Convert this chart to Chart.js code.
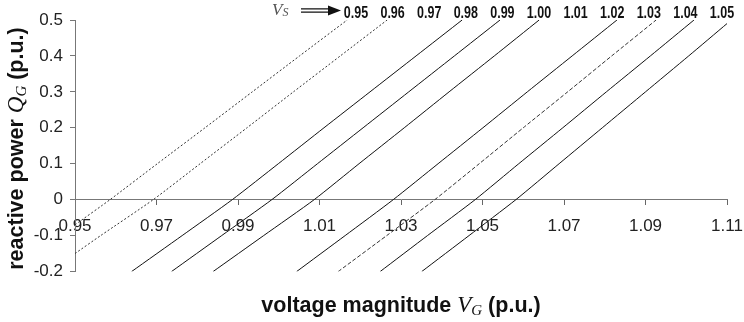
<!DOCTYPE html>
<html>
<head>
<meta charset="utf-8">
<script src="https://cdn.jsdelivr.net/npm/chart.js@4/dist/chart.umd.min.js"></script>
<style>
  html, body { margin: 0; padding: 0; background: #fff; }
  #wrap { width: 744px; height: 322px; }
</style>
</head>
<body>
<div id="wrap"><canvas id="c" width="744" height="322"></canvas></div>
<script>
// ---- data ----
const xTickValues = [0.95, 0.97, 0.99, 1.01, 1.03, 1.05, 1.07, 1.09, 1.11];
const xTickLabels = ['0.95', '0.97', '0.99', '1.01', '1.03', '1.05', '1.07', '1.09', '1.11'];
const yTickValues = [-0.2, -0.1, 0, 0.1, 0.2, 0.3, 0.4, 0.5];
const yTickLabels = ['-0.2', '-0.1', '0', '0.1', '0.2', '0.3', '0.4', '0.5'];
const vsLabels = ['0.95', '0.96', '0.97', '0.98', '0.99', '1.00', '1.01', '1.02', '1.03', '1.04', '1.05'];

// curves: voltage magnitude V_G (x) and reactive power Q_G (y)
const vs095V = [0.9500, 0.9586, 0.9702, 0.9819, 0.9935, 1.0051, 1.0168];
const vs095Q = [-0.07, 0.0, 0.1, 0.2, 0.3, 0.4, 0.5];
const vs096V = [0.9500, 0.9563, 0.9692, 0.9807, 0.9922, 1.0036, 1.0151, 1.0266];
const vs096Q = [-0.15, -0.1, 0.0, 0.1, 0.2, 0.3, 0.4, 0.5];
const vs098V = [0.9639, 0.9763, 0.9886, 0.9999, 1.0111, 1.0224, 1.0337, 1.0450];
const vs099V = [0.9737, 0.9860, 0.9983, 1.0095, 1.0207, 1.0319, 1.0431, 1.0543];
const vs100V = [0.9839, 0.9963, 1.0087, 1.0197, 1.0308, 1.0418, 1.0529, 1.0639];
const vs102V = [1.0044, 1.0163, 1.0281, 1.0391, 1.0501, 1.0610, 1.0720, 1.0830];
const vs103V = [1.0146, 1.0265, 1.0383, 1.0492, 1.0600, 1.0709, 1.0817, 1.0926];
const vs104V = [1.0249, 1.0365, 1.0482, 1.0589, 1.0697, 1.0804, 1.0912, 1.1019];
const vs105V = [1.0351, 1.0467, 1.0582, 1.0688, 1.0794, 1.0900, 1.1006, 1.1100];
const fullQ  = [-0.2, -0.1, 0.0, 0.1, 0.2, 0.3, 0.4, 0.5];
const vs105Q = [-0.2, -0.1, 0.0, 0.1, 0.2, 0.3, 0.4, 0.49];

function pts(vArr, qArr) { return vArr.map((v, i) => ({ x: v, y: qArr[i] })); }

const series = [
  { name: '0.95', v: vs095V, q: vs095Q, dash: [2, 2], color: '#333' },
  { name: '0.96', v: vs096V, q: vs096Q, dash: [2, 2], color: '#333' },
  { name: '0.98', v: vs098V, q: fullQ, dash: [], color: '#111' },
  { name: '0.99', v: vs099V, q: fullQ, dash: [], color: '#111' },
  { name: '1.00', v: vs100V, q: fullQ, dash: [], color: '#111' },
  { name: '1.02', v: vs102V, q: fullQ, dash: [], color: '#111' },
  { name: '1.03', v: vs103V, q: fullQ, dash: [4, 2], color: '#333' },
  { name: '1.04', v: vs104V, q: fullQ, dash: [], color: '#111' },
  { name: '1.05', v: vs105V, q: vs105Q, dash: [], color: '#111' }
];

const SANS = '"Liberation Sans", Arial, sans-serif';
const SERIF = '"Liberation Serif", "Times New Roman", serif';

function drawRich(ctx, parts, x, y, align) {
  let total = 0;
  parts.forEach(p => { ctx.font = p.font; p.w = ctx.measureText(p.t).width; total += p.w; });
  let cx = align === 'center' ? x - total / 2 : x;
  parts.forEach(p => {
    ctx.font = p.font;
    ctx.fillText(p.t, cx, y + (p.dy || 0));
    cx += p.w;
  });
}

const decorations = {
  id: 'decorations',
  afterDraw(chart) {
    const ctx = chart.ctx;
    const area = chart.chartArea;
    ctx.save();
    ctx.textAlign = 'left';
    ctx.textBaseline = 'alphabetic';
    ctx.fillStyle = '#111';

    // x axis title
    drawRich(ctx, [
      { t: 'voltage magnitude ', font: 'bold 21.5px ' + SANS },
      { t: 'V', font: 'italic 23px ' + SERIF },
      { t: 'G', font: 'italic 15px ' + SERIF, dy: 3 },
      { t: ' (p.u.)', font: 'bold 21.5px ' + SANS }
    ], (area.left + area.right) / 2, 311.5, 'center');

    // y axis title
    ctx.save();
    ctx.translate(22.5, 148.5);
    ctx.rotate(-Math.PI / 2);
    drawRich(ctx, [
      { t: 'reactive power ', font: 'bold 21.5px ' + SANS },
      { t: 'Q', font: 'italic 23px ' + SERIF },
      { t: 'G', font: 'italic 15px ' + SERIF, dy: 3 },
      { t: ' (p.u.)', font: 'bold 21.5px ' + SANS }
    ], 0, 0, 'center');
    ctx.restore();

    // V_S label
    ctx.fillStyle = '#555';
    drawRich(ctx, [
      { t: 'V', font: 'italic 17px ' + SERIF },
      { t: 'S', font: 'italic 12px ' + SERIF, dy: 1.5 }
    ], 272, 14.5, 'left');

    // double arrow
    ctx.strokeStyle = '#111';
    ctx.lineWidth = 1.2;
    ctx.beginPath();
    ctx.moveTo(301, 8.8); ctx.lineTo(331, 8.8);
    ctx.moveTo(301, 12.2); ctx.lineTo(331, 12.2);
    ctx.stroke();
    ctx.fillStyle = '#111';
    ctx.beginPath();
    ctx.moveTo(328, 5.5); ctx.lineTo(341, 10.5); ctx.lineTo(328, 15.5); ctx.closePath();
    ctx.fill();

    // V_S values
    ctx.font = 'bold 16px ' + SANS;
    ctx.textAlign = 'center';
    ctx.fillStyle = '#111';
    vsLabels.forEach((lab, i) => {
      const cx = 356 + i * 36.6;
      ctx.save();
      ctx.translate(cx, 17.5);
      ctx.scale(0.78, 1);
      ctx.fillText(lab, 0, 0);
      ctx.restore();
    });
    ctx.restore();
  }
};

new Chart(document.getElementById('c'), {
  type: 'scatter',
  data: {
    datasets: series.map(s => ({
      label: 'V_S = ' + s.name,
      data: pts(s.v, s.q),
      showLine: true,
      borderColor: s.color,
      borderWidth: 1,
      borderDash: s.dash,
      pointRadius: 0,
      tension: 0.2,
      fill: false
    }))
  },
  options: {
    responsive: false,
    animation: false,
    devicePixelRatio: 1,
    layout: { padding: { left: 0, top: 20, right: 17, bottom: 50.5 } },
    plugins: { legend: { display: false }, tooltip: { enabled: false }, title: { display: false } },
    scales: {
      x: {
        type: 'linear',
        position: { y: 0 },
        min: 0.95,
        max: 1.11,
        afterFit(scale) { scale.paddingLeft = 0; scale.paddingRight = 0; },
        afterBuildTicks(scale) { scale.ticks = xTickValues.map(v => ({ value: v })); },
        ticks: {
          autoSkip: false,
          maxRotation: 0,
          padding: 11,
          color: '#222',
          font: { family: SANS, size: 17 },
          callback(value, index) { return xTickLabels[index]; }
        },
        grid: { drawOnChartArea: false, drawTicks: true, tickLength: 5, color: '#666' },
        border: { display: true, color: '#777', width: 1 }
      },
      y: {
        type: 'linear',
        position: 'left',
        min: -0.2,
        max: 0.5,
        afterFit(scale) { scale.width = 75; },
        afterBuildTicks(scale) { scale.ticks = yTickValues.map(v => ({ value: v })); },
        ticks: {
          autoSkip: false,
          padding: 7,
          color: '#222',
          font: { family: SANS, size: 17 },
          callback(value, index) { return yTickLabels[index]; }
        },
        grid: { drawOnChartArea: false, drawTicks: true, tickLength: 5, color: '#777' },
        border: { display: true, color: '#777', width: 1 }
      }
    }
  },
  plugins: [decorations]
});
</script>
</body>
</html>
